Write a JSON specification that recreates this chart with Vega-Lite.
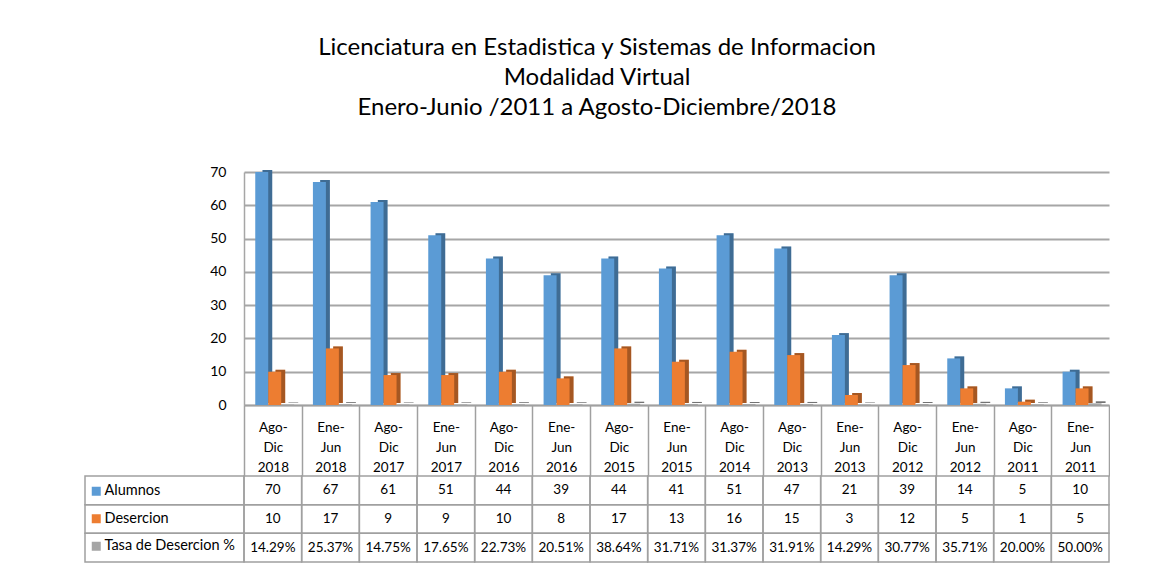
{
  "$schema": "https://vega.github.io/schema/vega-lite/v6.json",
  "padding": {"left": 84, "top": 36, "right": 0, "bottom": 0},
  "title": {
    "text": ["Licenciatura en Estadistica y Sistemas de Informacion", "Modalidad Virtual", "Enero-Junio /2011 a Agosto-Diciembre/2018"],
    "fontSize": 24, "font": "Lato", "fontWeight": "normal", "lineHeight": 30, "offset": 45, "anchor": "middle", "color": "#000000"
  },
  "datasets": {
    "tabla": [
      {"Periodo": "Ago-Dic 2018", "Serie": "Alumnos", "Valor": 70},
      {"Periodo": "Ene-Jun 2018", "Serie": "Alumnos", "Valor": 67},
      {"Periodo": "Ago-Dic 2017", "Serie": "Alumnos", "Valor": 61},
      {"Periodo": "Ene-Jun 2017", "Serie": "Alumnos", "Valor": 51},
      {"Periodo": "Ago-Dic 2016", "Serie": "Alumnos", "Valor": 44},
      {"Periodo": "Ene-Jun 2016", "Serie": "Alumnos", "Valor": 39},
      {"Periodo": "Ago-Dic 2015", "Serie": "Alumnos", "Valor": 44},
      {"Periodo": "Ene-Jun 2015", "Serie": "Alumnos", "Valor": 41},
      {"Periodo": "Ago-Dic 2014", "Serie": "Alumnos", "Valor": 51},
      {"Periodo": "Ago-Dic 2013", "Serie": "Alumnos", "Valor": 47},
      {"Periodo": "Ene-Jun 2013", "Serie": "Alumnos", "Valor": 21},
      {"Periodo": "Ago-Dic 2012", "Serie": "Alumnos", "Valor": 39},
      {"Periodo": "Ene-Jun 2012", "Serie": "Alumnos", "Valor": 14},
      {"Periodo": "Ago-Dic 2011", "Serie": "Alumnos", "Valor": 5},
      {"Periodo": "Ene-Jun 2011", "Serie": "Alumnos", "Valor": 10},
      {"Periodo": "Ago-Dic 2018", "Serie": "Desercion", "Valor": 10},
      {"Periodo": "Ene-Jun 2018", "Serie": "Desercion", "Valor": 17},
      {"Periodo": "Ago-Dic 2017", "Serie": "Desercion", "Valor": 9},
      {"Periodo": "Ene-Jun 2017", "Serie": "Desercion", "Valor": 9},
      {"Periodo": "Ago-Dic 2016", "Serie": "Desercion", "Valor": 10},
      {"Periodo": "Ene-Jun 2016", "Serie": "Desercion", "Valor": 8},
      {"Periodo": "Ago-Dic 2015", "Serie": "Desercion", "Valor": 17},
      {"Periodo": "Ene-Jun 2015", "Serie": "Desercion", "Valor": 13},
      {"Periodo": "Ago-Dic 2014", "Serie": "Desercion", "Valor": 16},
      {"Periodo": "Ago-Dic 2013", "Serie": "Desercion", "Valor": 15},
      {"Periodo": "Ene-Jun 2013", "Serie": "Desercion", "Valor": 3},
      {"Periodo": "Ago-Dic 2012", "Serie": "Desercion", "Valor": 12},
      {"Periodo": "Ene-Jun 2012", "Serie": "Desercion", "Valor": 5},
      {"Periodo": "Ago-Dic 2011", "Serie": "Desercion", "Valor": 1},
      {"Periodo": "Ene-Jun 2011", "Serie": "Desercion", "Valor": 5},
      {"Periodo": "Ago-Dic 2018", "Serie": "Tasa de Desercion %", "Valor": 0.1429},
      {"Periodo": "Ene-Jun 2018", "Serie": "Tasa de Desercion %", "Valor": 0.2537},
      {"Periodo": "Ago-Dic 2017", "Serie": "Tasa de Desercion %", "Valor": 0.1475},
      {"Periodo": "Ene-Jun 2017", "Serie": "Tasa de Desercion %", "Valor": 0.1765},
      {"Periodo": "Ago-Dic 2016", "Serie": "Tasa de Desercion %", "Valor": 0.2273},
      {"Periodo": "Ene-Jun 2016", "Serie": "Tasa de Desercion %", "Valor": 0.2051},
      {"Periodo": "Ago-Dic 2015", "Serie": "Tasa de Desercion %", "Valor": 0.3864},
      {"Periodo": "Ene-Jun 2015", "Serie": "Tasa de Desercion %", "Valor": 0.3171},
      {"Periodo": "Ago-Dic 2014", "Serie": "Tasa de Desercion %", "Valor": 0.3137},
      {"Periodo": "Ago-Dic 2013", "Serie": "Tasa de Desercion %", "Valor": 0.3191},
      {"Periodo": "Ene-Jun 2013", "Serie": "Tasa de Desercion %", "Valor": 0.1429},
      {"Periodo": "Ago-Dic 2012", "Serie": "Tasa de Desercion %", "Valor": 0.3077},
      {"Periodo": "Ene-Jun 2012", "Serie": "Tasa de Desercion %", "Valor": 0.3571},
      {"Periodo": "Ago-Dic 2011", "Serie": "Tasa de Desercion %", "Valor": 0.2},
      {"Periodo": "Ene-Jun 2011", "Serie": "Tasa de Desercion %", "Valor": 0.5}
    ],
    "filas": [
      {"Fila": "Alumnos"},
      {"Fila": "Desercion"},
      {"Fila": "Tasa de Desercion %"}
    ]
  },
  "columns": 2,
  "spacing": {"row": 71, "column": 0},
  "bounds": "flush",
  "concat": [
    {
      "width": 159, "height": 233,
      "data": {"values": [{"a": 1}]},
      "mark": {"type": "text"},
      "encoding": {"text": {"value": ""}}
    },
    {
      "width": 865, "height": 233,
      "data": {"name": "tabla"},
      "encoding": {
        "x": {
          "field": "Periodo", "type": "nominal", "sort": null,
          "scale": {"paddingInner": 0, "paddingOuter": 0},
          "axis": {
            "title": null, "labelAngle": 0,
            "labelExpr": "[slice(split(datum.label,' ')[0],0,4), slice(split(datum.label,' ')[0],4), split(datum.label,' ')[1]]",
            "labelFontSize": 13.5, "labelLineHeight": 20, "labelColor": "#000000", "labelFont": "Lato",
            "labelBaseline": "top", "labelPadding": -56,
            "tickBand": "extent", "tickSize": 71, "tickColor": "#A0A0A0", "tickWidth": 1.5,
            "domainColor": "#A0A0A0", "domainWidth": 1.5
          }
        },
        "xOffset": {
          "field": "Serie", "type": "nominal",
          "scale": {"domain": ["Alumnos", "Desercion", "Tasa de Desercion %"], "paddingInner": 0, "paddingOuter": 0.72, "align": 0.6}
        },
        "y": {
          "field": "Valor", "type": "quantitative",
          "scale": {"domain": [0, 70], "nice": false},
          "axis": {
            "title": null, "values": [0, 10, 20, 30, 40, 50, 60, 70],
            "grid": true, "gridColor": "#A6A6A6", "gridWidth": 2,
            "domain": true, "domainColor": "#A6A6A6", "domainWidth": 1.5,
            "ticks": false, "labelFontSize": 14, "labelPadding": 18, "labelColor": "#000000", "labelFont": "Lato"
          }
        },
        "color": {
          "field": "Serie", "type": "nominal",
          "scale": {"domain": ["Alumnos", "Desercion", "Tasa de Desercion %"], "range": ["#5B9BD5", "#ED7D31", "#A5A5A5"]},
          "legend": {
            "orient": "none", "legendX": 4, "legendY": 312, "title": null,
            "symbolType": "square", "symbolSize": 81, "symbolStrokeWidth": 0,
            "labelFontSize": 14.5, "labelColor": "#000000", "labelFont": "Lato",
            "rowPadding": 12.5, "labelOffset": 1
          }
        }
      },
      "layer": [
        {
          "mark": {"type": "bar", "width": {"band": 0.747}, "yOffset": -2}
        },
        {
          "mark": {"type": "bar", "width": {"band": 0.747}, "yOffset": -2, "opacity": 0.3},
          "encoding": {"color": {"value": "#000000"}}
        },
        {
          "mark": {"type": "bar", "width": {"band": 0.999}}
        }
      ]
    },
    {
      "width": 159, "height": 86,
      "data": {"name": "filas"},
      "mark": {"type": "rect", "filled": false, "stroke": "#A0A0A0", "strokeWidth": 1.5},
      "encoding": {
        "y": {"field": "Fila", "type": "nominal", "axis": null,
              "scale": {"domain": ["Alumnos", "Desercion", "Tasa de Desercion %"], "paddingInner": 0, "paddingOuter": 0}}
      }
    },
    {
      "width": 865, "height": 86,
      "data": {"name": "tabla"},
      "encoding": {
        "x": {"field": "Periodo", "type": "nominal", "sort": null, "axis": null, "scale": {"paddingInner": 0, "paddingOuter": 0}},
        "y": {"field": "Serie", "type": "nominal", "axis": null,
              "scale": {"domain": ["Alumnos", "Desercion", "Tasa de Desercion %"], "paddingInner": 0, "paddingOuter": 0}}
      },
      "layer": [
        {"mark": {"type": "rect", "filled": false, "stroke": "#A0A0A0", "strokeWidth": 1.5}},
        {
          "transform": [{"filter": "datum.Serie !== 'Tasa de Desercion %'"}],
          "mark": {"type": "text", "fontSize": 13.5, "font": "Lato", "color": "#000000"},
          "encoding": {"text": {"field": "Valor", "type": "quantitative", "format": "d"}}
        },
        {
          "transform": [{"filter": "datum.Serie === 'Tasa de Desercion %'"}],
          "mark": {"type": "text", "fontSize": 13.5, "font": "Lato", "color": "#000000"},
          "encoding": {"text": {"field": "Valor", "type": "quantitative", "format": ".2%"}}
        }
      ]
    }
  ],
  "config": {"view": {"stroke": null}, "font": "Lato"}
}
